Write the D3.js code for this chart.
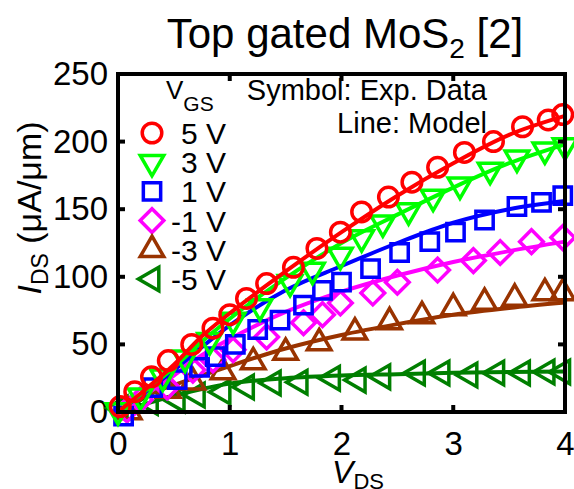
<!DOCTYPE html>
<html>
<head>
<meta charset="utf-8">
<script src="https://cdn.jsdelivr.net/npm/d3@7"></script>
</head>
<body style="margin:0">
<div id="chart"></div>
<script>
// gate voltages (legend labels)
const gateLabels = ['5 V', '3 V', '1 V', '-1 V', '-3 V', '-5 V'];

// experimental points (symbols)
const vds5 = [0.02, 0.15, 0.3, 0.45, 0.66, 0.85, 1.0, 1.15, 1.33, 1.57, 1.78, 1.99, 2.18, 2.42, 2.63, 2.86, 3.1, 3.36, 3.62, 3.85, 3.98];
const ids5 = [4, 15, 26, 38, 50, 62, 72, 84, 95, 107, 121, 133, 148, 159, 170, 181, 192, 200, 211, 216, 220];

const vds3 = [0, 0.2, 0.4, 0.6, 0.82, 1.03, 1.27, 1.54, 1.74, 1.99, 2.18, 2.37, 2.6, 2.82, 3.06, 3.33, 3.57, 3.82, 4.0];
const ids3 = [1, 12, 26, 40, 53, 68, 78, 96, 105, 116, 129, 140, 149, 159, 168, 179, 188, 194, 197];

const vds1 = [0.05, 0.31, 0.53, 0.73, 0.87, 1.05, 1.25, 1.45, 1.66, 1.83, 2.0, 2.26, 2.52, 2.79, 3.02, 3.28, 3.57, 3.79, 3.98];
const ids1 = [-3, 18, 24, 33, 41, 50, 61, 68, 79, 90, 96, 106, 118, 126, 133, 142, 152, 155, 160];

const vdsM1 = [0.08, 0.2, 0.44, 0.67, 0.85, 1.03, 1.33, 1.66, 1.83, 1.99, 2.28, 2.5, 2.86, 3.18, 3.42, 3.7, 3.98];
const idsM1 = [1.5, 9, 18.5, 31, 38.5, 46, 55.5, 66, 72, 80.6, 88, 96, 105, 112, 118, 126, 129];

const vdsM3 = [0.1, 0.45, 0.67, 0.94, 1.21, 1.5, 1.8, 2.12, 2.43, 2.72, 3.0, 3.28, 3.55, 3.82, 3.98];
const idsM3 = [0, 16, 22, 29.6, 37, 44, 51, 59, 66.6, 71, 77, 81, 84, 88, 88];

const vdsM5 = [0.02, 0.29, 0.53, 0.71, 0.94, 1.15, 1.39, 1.63, 1.92, 2.15, 2.37, 2.68, 2.9, 3.15, 3.39, 3.62, 3.84, 3.98];
const idsM5 = [3, 7, 9, 12.6, 14.8, 18.5, 21.4, 22, 25, 23.6, 26, 28.8, 28.8, 27.4, 28.8, 28.8, 29.6, 29.6];

// model curves (lines)
const modelV = [0, 0.25, 0.5, 0.75, 1, 1.5, 2, 2.5, 3, 3.5, 4];
const model5 = [0, 17, 35, 56, 73, 104, 133, 160, 184, 205, 219];
const model3 = [0, 16, 33, 52, 69, 99, 125, 146, 166, 184, 198];
const model1 = [0, 15, 31, 48, 64, 90, 108, 125, 140, 150, 156];
const modelM1 = [0, 13, 27, 42, 54, 74, 89, 101, 111, 119, 126];
const modelM3 = [0, 12, 20, 27, 34, 47, 57, 65, 72, 77, 81];
const modelM5 = [0, 6, 12, 17, 21, 25, 27, 28, 29, 29.5, 30];

const xTicks = [0, 1, 2, 3, 4];
const yTicks = [0, 50, 100, 150, 200, 250];

const W = 574;
const H = 489;
const FONT = 'Liberation Sans, Arial, sans-serif';
const LEFT = 118, RIGHT = 565, TOP = 74, BOTTOM = 412;

const series = [
  { label: gateLabels[0], color: '#ff0000', shape: 'circle',   vx: vds5,  vy: ids5,  my: model5 },
  { label: gateLabels[1], color: '#00ff00', shape: 'triDown',  vx: vds3,  vy: ids3,  my: model3 },
  { label: gateLabels[2], color: '#0000ff', shape: 'square',   vx: vds1,  vy: ids1,  my: model1 },
  { label: gateLabels[3], color: '#ff00ff', shape: 'diamond',  vx: vdsM1, vy: idsM1, my: modelM1 },
  { label: gateLabels[4], color: '#993300', shape: 'triUp',    vx: vdsM3, vy: idsM3, my: modelM3 },
  { label: gateLabels[5], color: '#007f00', shape: 'triLeft',  vx: vdsM5, vy: idsM5, my: modelM5 }
];

const xScale = d3.scaleLinear().domain([0, 4]).range([LEFT, RIGHT]);
const yScale = d3.scaleLinear().domain([0, 250]).range([BOTTOM, TOP]);

const svg = d3.select('#chart')
  .append('svg')
    .attr('width', W)
    .attr('height', H);

function symbolPath(shape) {
  switch (shape) {
    case 'circle':  return d3.symbol(d3.symbolCircle, 300)();
    case 'square':  return d3.symbol(d3.symbolSquare, 300)();
    case 'diamond': return d3.symbol(d3.symbolSquare, 280)();
    default:        return d3.symbol(d3.symbolTriangle, 240)();
  }
}

function symbolRotate(shape) {
  if (shape === 'triDown') return 180;
  if (shape === 'triLeft') return -90;
  if (shape === 'diamond') return 45;
  return 0;
}

// tick labels through the axis generators
const xAxisB = d3.axisBottom(xScale).tickValues(xTicks).tickSize(0).tickPadding(20).tickFormat(d3.format('d'));
const yAxisL = d3.axisLeft(yScale).tickValues(yTicks).tickSize(0).tickPadding(10).tickFormat(d3.format('d'));

svg.append('g').attr('class', 'ax').attr('transform', `translate(0,${BOTTOM})`).call(xAxisB);
svg.append('g').attr('class', 'ax').attr('transform', `translate(${LEFT},0)`).call(yAxisL);

svg.selectAll('.ax .domain').remove();
svg.selectAll('.ax .tick line').remove();
svg.selectAll('.ax .tick text')
  .attr('fill', 'black')
  .attr('font-family', FONT)
  .attr('font-size', 33);

// data, drawn from -5 V up so 5 V ends on top
const line = d3.line()
  .x((d) => xScale(d[0]))
  .y((d) => yScale(d[1]))
  .curve(d3.curveMonotoneX);

series.slice().reverse().forEach(function(s) {
  const pts = s.vx.map((v, i) => [v, s.vy[i]]);
  const g = svg.append('g');

  g.append('path')
    .datum(modelV.map((v, i) => [v, s.my[i]]))
    .attr('d', line)
    .attr('fill', 'none')
    .attr('stroke', s.color)
    .attr('stroke-width', 4);

  g.selectAll('path.pt')
    .data(pts)
    .enter()
    .append('path')
      .attr('class', 'pt')
      .attr('d', symbolPath(s.shape))
      .attr('transform', (d) => `translate(${xScale(d[0])},${yScale(d[1])}) rotate(${symbolRotate(s.shape)})`)
      .attr('fill', 'none')
      .attr('stroke', s.color)
      .attr('stroke-width', 3.5);
});

// frame and inward ticks, drawn as plain lines on top
const frame = svg.append('g').attr('class', 'frame');

frame.append('line').attr('x1', LEFT - 2).attr('x2', RIGHT + 2).attr('y1', TOP).attr('y2', TOP);
frame.append('line').attr('x1', LEFT - 2).attr('x2', RIGHT + 2).attr('y1', BOTTOM).attr('y2', BOTTOM);
frame.append('line').attr('x1', LEFT).attr('x2', LEFT).attr('y1', TOP).attr('y2', BOTTOM);
frame.append('line').attr('x1', RIGHT).attr('x2', RIGHT).attr('y1', TOP).attr('y2', BOTTOM);

xTicks.forEach(function(t) {
  frame.append('line').attr('x1', xScale(t)).attr('x2', xScale(t)).attr('y1', BOTTOM).attr('y2', BOTTOM - 7);
  frame.append('line').attr('x1', xScale(t)).attr('x2', xScale(t)).attr('y1', TOP).attr('y2', TOP + 7);
});
yTicks.forEach(function(t) {
  frame.append('line').attr('x1', LEFT).attr('x2', LEFT + 7).attr('y1', yScale(t)).attr('y2', yScale(t));
  frame.append('line').attr('x1', RIGHT).attr('x2', RIGHT - 7).attr('y1', yScale(t)).attr('y2', yScale(t));
});

frame.selectAll('line')
  .attr('stroke', 'black')
  .attr('stroke-width', 4);

// legend
const legY0 = 133;
const legStep = 29.2;

const vgs = svg.append('text')
  .attr('x', 166)
  .attr('y', 99)
  .attr('font-family', FONT)
  .attr('font-size', 26);
vgs.append('tspan').text('V');
vgs.append('tspan').attr('dy', 12).attr('font-size', 21).text('GS');

series.forEach(function(s, i) {
  const cy = legY0 + i * legStep;
  svg.append('path')
    .attr('d', symbolPath(s.shape))
    .attr('transform', `translate(152,${cy}) rotate(${symbolRotate(s.shape)})`)
    .attr('fill', 'none')
    .attr('stroke', s.color)
    .attr('stroke-width', 3.5);
  svg.append('text')
    .attr('x', 226)
    .attr('y', cy + 11)
    .attr('text-anchor', 'end')
    .attr('font-family', FONT)
    .attr('font-size', 30)
    .text(s.label);
});

svg.append('text')
  .attr('x', 487)
  .attr('y', 100)
  .attr('text-anchor', 'end')
  .attr('font-family', FONT)
  .attr('font-size', 29)
  .text('Symbol: Exp. Data');

svg.append('text')
  .attr('x', 487)
  .attr('y', 133)
  .attr('text-anchor', 'end')
  .attr('font-family', FONT)
  .attr('font-size', 29)
  .text('Line: Model');

// title
const title = svg.append('text')
  .attr('x', 345)
  .attr('y', 48)
  .attr('text-anchor', 'middle')
  .attr('font-family', FONT)
  .attr('font-size', 42);
title.append('tspan').text('Top gated MoS');
title.append('tspan').attr('dy', 10).attr('font-size', 28).text('2');
title.append('tspan').attr('dy', -10).text(' [2]');

// axis labels
const xLab = svg.append('text')
  .attr('x', 358)
  .attr('y', 483)
  .attr('text-anchor', 'middle')
  .attr('font-family', FONT)
  .attr('font-size', 32);
xLab.append('tspan').attr('font-style', 'italic').text('V');
xLab.append('tspan').attr('dy', 6).attr('font-size', 22).text('DS');

const yLab = svg.append('text')
  .attr('transform', 'translate(41,208) rotate(-90)')
  .attr('text-anchor', 'middle')
  .attr('font-family', FONT)
  .attr('font-size', 34);
yLab.append('tspan').attr('font-style', 'italic').text('I');
yLab.append('tspan').attr('dy', 7).attr('font-size', 23).text('DS');
yLab.append('tspan').attr('dy', -7).text(' (μA/μm)');
</script>
</body>
</html>
